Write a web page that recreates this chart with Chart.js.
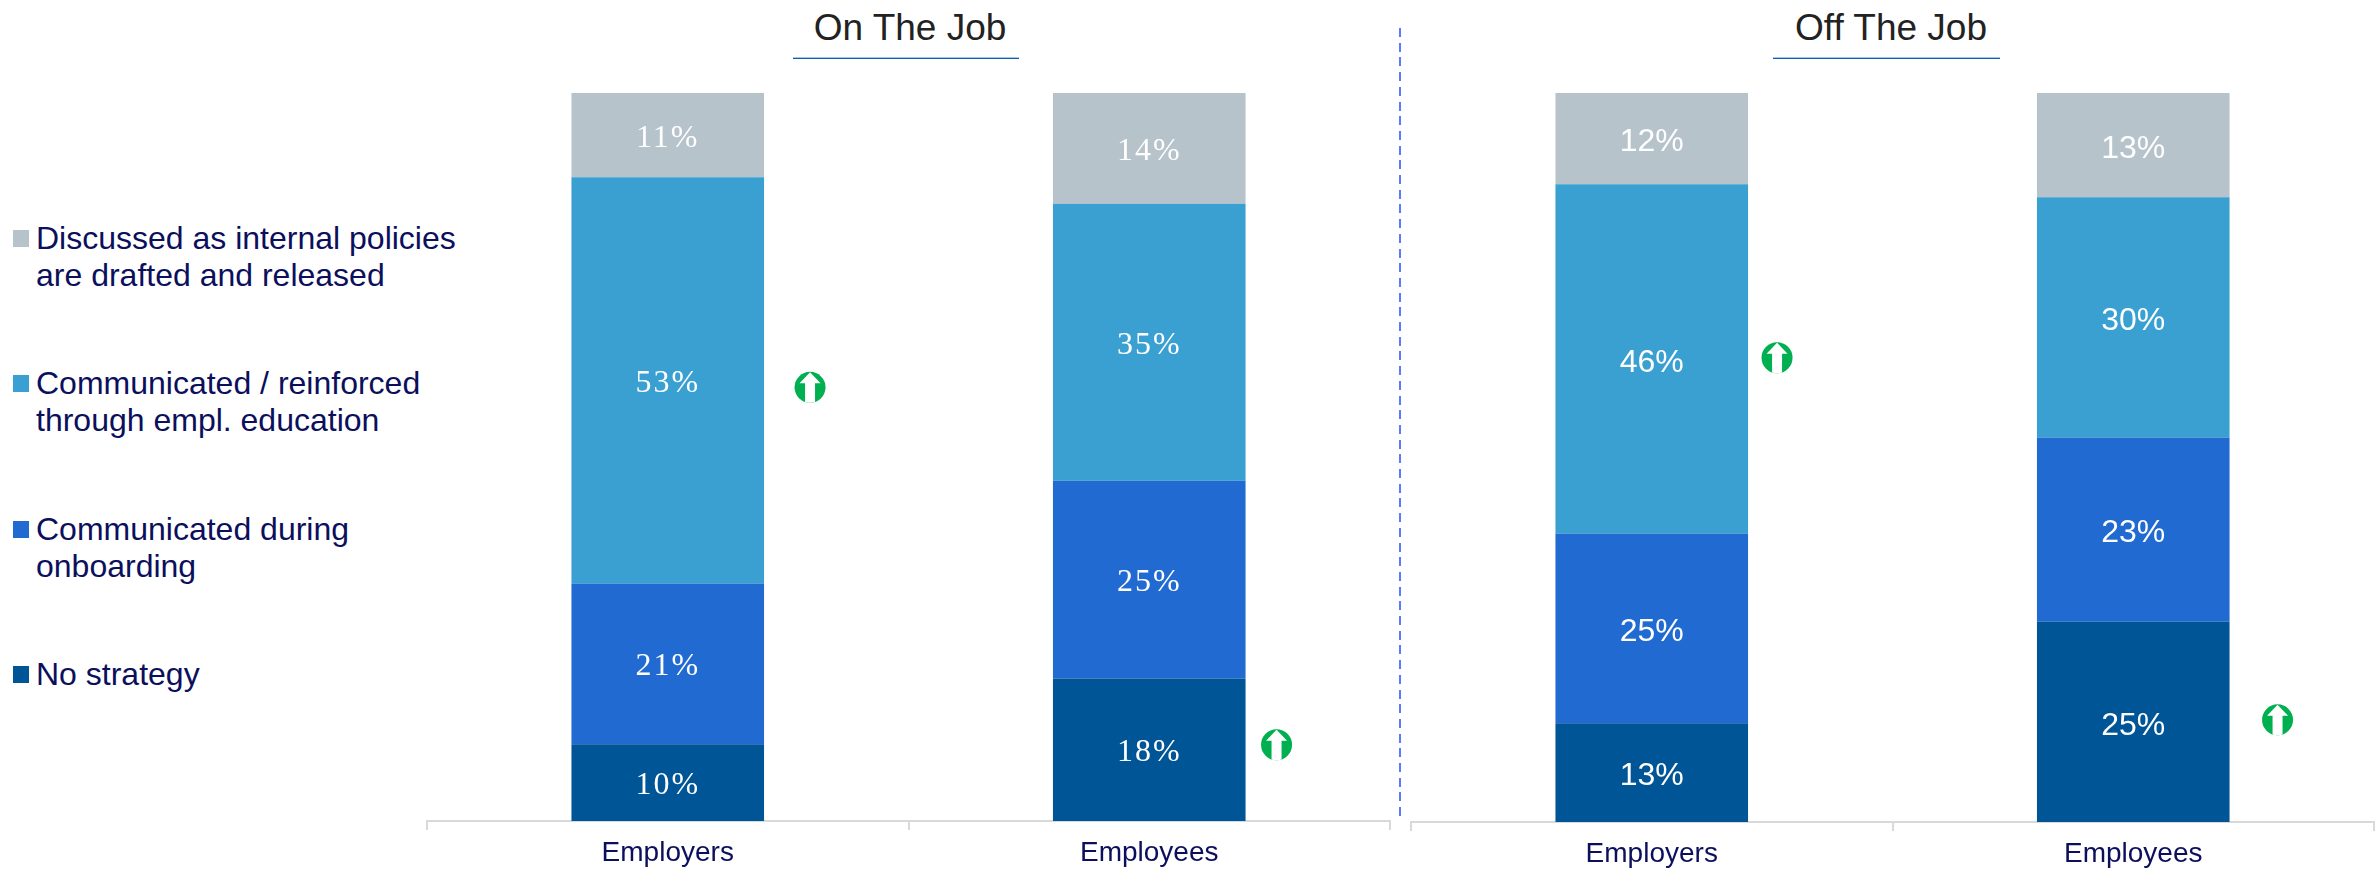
<!DOCTYPE html>
<html>
<head>
<meta charset="utf-8">
<title>On The Job / Off The Job</title>
<script src="https://cdn.jsdelivr.net/npm/chart.js@4"></script>
<style>
  html, body { margin: 0; padding: 0; background: #fff; overflow: hidden; }
  body { width: 2379px; height: 869px; position: relative; font-family: "Liberation Sans", Arial, sans-serif; }
  canvas { position: absolute; top: 0; }
  .title { position: absolute; top: 5px; height: 46px; line-height: 46px; font-size: 37px; color: #222; text-align: center; white-space: nowrap; }
  .rule { position: absolute; top: 57px; height: 1px; background: #0a5fb4; border-top: 1px solid #a9c6e4; }
  #divider { position: absolute; left: 1399px; top: 28px; width: 2px; height: 794px; background: repeating-linear-gradient(to bottom, #5b7bff 0 9px, transparent 9px 14.7px); }
  .leg { position: absolute; left: 36px; font-size: 32px; line-height: 37px; color: #0b0f5c; white-space: pre; }
  .leg i { position: absolute; left: -23px; top: 10px; width: 16px; height: 17px; }
</style>
</head>
<body>
<div class="title" style="left:710px;width:400px">On The Job</div>
<div class="rule" style="left:793px;width:226px"></div>
<div class="title" style="left:1691px;width:400px">Off The Job</div>
<div class="rule" style="left:1773px;width:227px"></div>
<div id="divider"></div>
<div id="legend"></div>
<canvas id="onJob" width="983" height="869" style="left:417px"></canvas>
<canvas id="offJob" width="978" height="869" style="left:1401px"></canvas>
<script>
// ── data ───────────────────────────────────────────────────────────
const categories = ["Employers", "Employees"];
const seriesNames = [
  "No strategy",
  "Communicated during\nonboarding",
  "Communicated / reinforced\nthrough empl. education",
  "Discussed as internal policies\nare drafted and released",
];
const seriesColors = ["#005596", "#206ad2", "#3a9fd1", "#b6c3cb"];

// labels in the picture don't add up to 100, bars are stretched to full height
const onNoStrategy = [10, 18];
const onOnboarding = [21, 25];
const onEducation = [53, 35];
const onPolicies = [11, 14];

const offNoStrategy = [13, 25];
const offOnboarding = [25, 23];
const offEducation = [46, 30];
const offPolicies = [12, 13];

// legend rows, top to bottom
const legendTops = [220, 365, 511, 656];

// ── plugins ────────────────────────────────────────────────────────
const barLabels = {
  id: "barLabels",
  afterDatasetsDraw(chart, _a, opts) {
    const ctx = chart.ctx;
    ctx.save();
    ctx.fillStyle = "#fff";
    ctx.font = opts.font;
    ctx.letterSpacing = opts.spacing;
    ctx.textAlign = "center";
    ctx.textBaseline = "middle";
    chart.data.datasets.forEach((ds, i) => {
      chart.getDatasetMeta(i).data.forEach((bar, j) => {
        const c = bar.getCenterPoint();
        ctx.fillText(ds.raw[j] + "%", c.x, c.y + opts.dy);
      });
    });
    ctx.restore();
  },
};

// green up-arrow badge, placed next to a bar segment
const upArrows = {
  id: "upArrows",
  afterDatasetsDraw(chart, _a, opts) {
    const ctx = chart.ctx;
    opts.items.forEach(([ds, cat, dx, dy]) => {
      const bar = chart.getDatasetMeta(ds).data[cat];
      const x = bar.x + bar.width / 2 + dx, y = bar.getCenterPoint().y + dy;
      ctx.save();
      ctx.beginPath();
      ctx.arc(x, y, 15.5, 0, Math.PI * 2);
      ctx.fillStyle = "#00b050";
      ctx.fill();
      ctx.clip();
      ctx.fillStyle = "#fff";
      ctx.beginPath();
      ctx.moveTo(x, y - 15);
      ctx.lineTo(x + 10.5, y - 4);
      ctx.lineTo(x + 5, y - 4);
      ctx.lineTo(x + 5, y + 16);
      ctx.lineTo(x - 5, y + 16);
      ctx.lineTo(x - 5, y - 4);
      ctx.lineTo(x - 10.5, y - 4);
      ctx.closePath();
      ctx.fill();
      ctx.restore();
    });
  },
};

// ── chart ──────────────────────────────────────────────────────────
function drawPanel(id, columns, top, bottom, labelFont, spacing, labelDy, arrows) {
  const sums = categories.map((_, j) => columns.reduce((s, c) => s + c[j], 0));
  return new Chart(document.getElementById(id), {
    type: "bar",
    plugins: [barLabels, upArrows],
    data: {
      labels: categories,
      datasets: columns.map((col, i) => ({
        label: seriesNames[i].replace("\n", " "),
        raw: col,
        data: col.map((v, j) => (v / sums[j]) * 100),
        backgroundColor: seriesColors[i],
        barPercentage: 0.4,
        categoryPercentage: 1,
      })),
    },
    options: {
      responsive: false,
      animation: false,
      layout: { padding: { left: 10, right: id === "onJob" ? 10 : 5, top, bottom } },
      plugins: {
        legend: { display: false },
        title: { display: false },
        tooltip: { enabled: false },
        barLabels: { font: labelFont, spacing, dy: labelDy },
        upArrows: { items: arrows },
      },
      scales: {
        x: {
          stacked: true,
          border: { color: "#d9d9d9", width: 2 },
          grid: { display: true, drawOnChartArea: false, color: "#d9d9d9", lineWidth: 2, tickLength: 9 },
          ticks: { color: "#0b0f5c", font: { family: "'Liberation Sans', Arial, sans-serif", size: 28 }, padding: 6, maxRotation: 0 },
          afterFit: (s) => { s.height = 48; },
        },
        y: { stacked: true, display: false, min: 0, max: 100 },
      },
    },
  });
}

drawPanel("onJob", [onNoStrategy, onOnboarding, onEducation, onPolicies], 93, 0,
  "32px 'Liberation Serif', 'Times New Roman', serif", "2px", 3, [[2, 0, 46, 7], [0, 1, 31, -5]]);
drawPanel("offJob", [offNoStrategy, offOnboarding, offEducation, offPolicies], 93, -1,
  "32px 'Liberation Sans', Arial, sans-serif", "0px", 4, [[2, 0, 29, -1], [0, 1, 48, -2]]);

// ── legend ─────────────────────────────────────────────────────────
const order = [3, 2, 1, 0];
document.getElementById("legend").innerHTML = order.map((s, i) =>
  `<div class="leg" style="top:${legendTops[i]}px"><i style="background:${seriesColors[s]}"></i>${seriesNames[s]}</div>`
).join("");
</script>
</body>
</html>
